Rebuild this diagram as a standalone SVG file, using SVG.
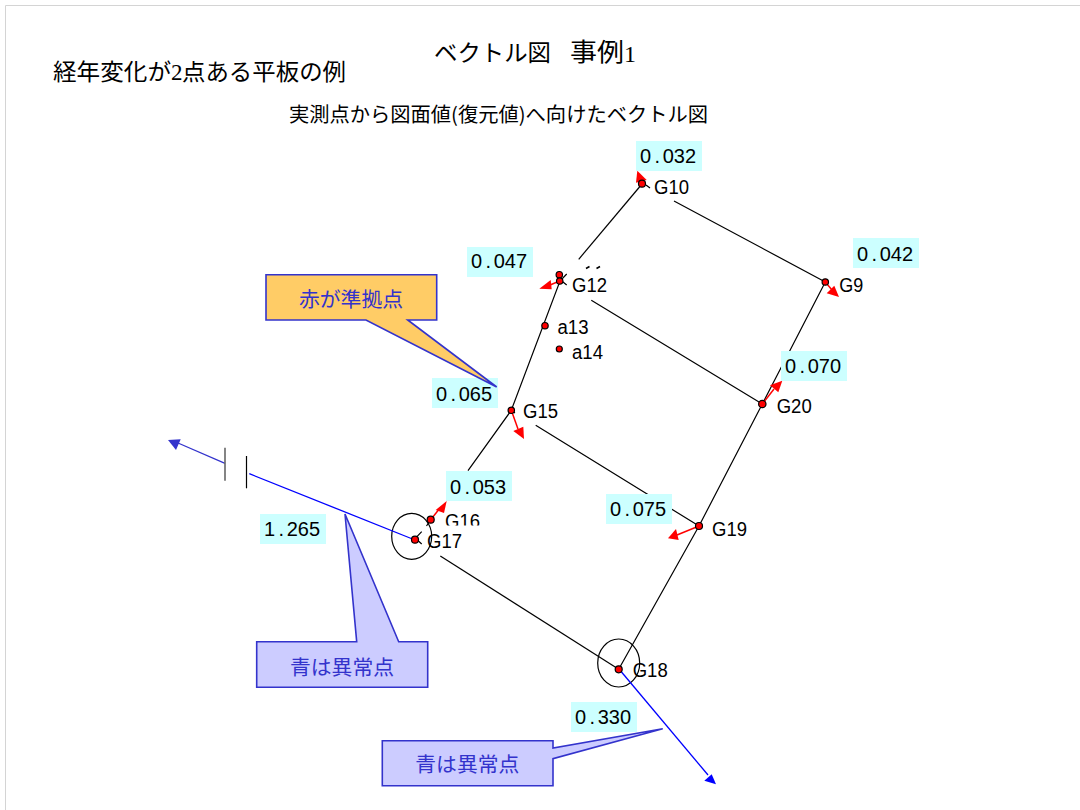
<svg xmlns="http://www.w3.org/2000/svg" width="1080" height="810" viewBox="0 0 1080 810">
<style>
text{font-family:"Liberation Sans","Noto Sans CJK JP",sans-serif;fill:#000}
.t{font-family:"Noto Sans CJK JP","Liberation Sans",sans-serif}
.s{font-family:"Liberation Serif",serif}
.n{font-size:20px}
.v{font-size:20px}
.box{fill:#ccffff}
.dot{fill:#ff0000;stroke:#000;stroke-width:1.2}
.k{stroke:#000;stroke-width:1.2;fill:none}
.r{stroke:#ff0000;stroke-width:1.5;fill:none}
.rh{fill:#ff0000}
.c{stroke:#3333cc;stroke-width:1.6;stroke-linejoin:miter}
.ct{font-family:"Noto Sans CJK JP",sans-serif;font-size:20.8px;fill:#3333cc;text-anchor:middle}
</style>
<rect width="1080" height="810" fill="#fff"/>
<path d="M5.5 810V5.5H1080" fill="none" stroke="#d4d4d4" stroke-width="1"/>
<g id="titles">
<text class="t" x="434" y="61" font-size="23" textLength="117" lengthAdjust="spacingAndGlyphs">ベクトル図</text>
<text class="t" x="570" y="61" font-size="25" textLength="54" lengthAdjust="spacingAndGlyphs">事例</text>
<text class="s" x="624" y="62" font-size="24">1</text>
<text class="t" x="53" y="80" font-size="23" textLength="118" lengthAdjust="spacingAndGlyphs">経年変化が</text>
<text class="s" x="171" y="80" font-size="23">2</text>
<text class="t" x="182" y="80" font-size="23" textLength="164" lengthAdjust="spacingAndGlyphs">点ある平板の例</text>
<text class="t" x="289" y="122" font-size="20" textLength="419" lengthAdjust="spacingAndGlyphs">実測点から図面値(復元値)へ向けたベクトル図</text>
</g>
<g id="connectors">
<path class="k" d="M642 184L578.7 259.3"/>
<path class="k" d="M646 185L650 188M674 201L825.3 282"/>
<path class="k" d="M825.3 282L762.3 404L699 526L618.7 669.3"/>
<path class="k" d="M566.7 274L560 281L511.3 410.3L468 470.7"/>
<path class="k" d="M562.7 281.7L566.7 285M591.3 300.3L762.3 404"/>
<path class="k" d="M511.3 410.3L515 413M535.7 425.3L699 526"/>
<path class="k" d="M440.3 556L618.7 669.3"/>
<path class="k" d="M421.7 531.7L416 537.7M417.3 540L421.7 544"/>
<path class="k" d="M430.7 519.7L426.5 526"/>
<path d="M586 268.5l3.5 -2M596.5 268.5l3.5 -2" fill="none" stroke="#000" stroke-width="1.6"/>
<ellipse class="k" cx="411.7" cy="536.3" rx="20" ry="23"/>
<ellipse class="k" cx="618.7" cy="663" rx="21" ry="24"/>
<path d="M415 540L249.3 473.7" fill="none" stroke="#0000ff" stroke-width="1.3"/>
<path d="M225 463.3L178 443" fill="none" stroke="#3333cc" stroke-width="1.3"/>
<polygon points="168,440 180.7,439.3 176,450" fill="#3333cc"/>
<path d="M225 447.7V480.7" stroke="#666" stroke-width="1.6"/>
<path d="M246.5 456V488.3" stroke="#000" stroke-width="1.2"/>
<path d="M619 669L708 775" fill="none" stroke="#0000ff" stroke-width="1.3"/>
<polygon points="716,784.3 704.3,780.7 711.7,774.3" fill="#0000ff"/>
</g>
<g id="vectors">
<path class="r" d="M642 184L640 176"/><polygon class="rh" points="637.3,170.7 646.7,180 636,182.7"/>
<path class="r" d="M559.7 281L550 285"/><polygon class="rh" points="539.3,288.7 550.7,280 551.7,289.3"/>
<path class="r" d="M511.3 410.3L518 429"/><polygon class="rh" points="524,439 513.3,431 523.3,426.7"/>
<path class="r" d="M430.7 519.7L440 508"/><polygon class="rh" points="446.7,501 435.7,510 444,513"/>
<path class="r" d="M699 526L677 535"/><polygon class="rh" points="668,538.3 676,529 678.7,540"/>
<path class="r" d="M825.3 282L832 290"/><polygon class="rh" points="839,297 826.7,293.3 834.3,285.7"/>
<path class="r" d="M762.3 404L774 389"/><polygon class="rh" points="782.3,380.7 770,385.3 778.3,392.3"/>
</g>
<g id="G10"><circle class="dot" cx="642" cy="183.7" r="3.5"/><text class="n" x="654" y="194" textLength="35" lengthAdjust="spacingAndGlyphs">G10</text></g>
<g id="G11"><circle class="dot" cx="559.3" cy="274.7" r="3.2"/></g>
<g id="G12"><circle class="dot" cx="559.7" cy="281" r="3.2"/><text class="n" x="572" y="292" textLength="35" lengthAdjust="spacingAndGlyphs">G12</text></g>
<g id="a13"><circle class="dot" cx="545" cy="325.7" r="3.2"/><text class="n" x="557.5" y="334" textLength="31" lengthAdjust="spacingAndGlyphs">a13</text></g>
<g id="a14"><circle class="dot" cx="559.3" cy="349" r="3"/><text class="n" x="572" y="358.5" textLength="31" lengthAdjust="spacingAndGlyphs">a14</text></g>
<g id="G15"><circle class="dot" cx="511.3" cy="410.3" r="3.2"/><text class="n" x="523" y="417.7" textLength="35" lengthAdjust="spacingAndGlyphs">G15</text></g>
<g id="G16"><circle class="dot" cx="430.7" cy="519.7" r="3.5"/><text class="n" x="445" y="528" textLength="35" lengthAdjust="spacingAndGlyphs">G16</text></g>
<rect x="444" y="525.5" width="40" height="28" fill="#fff"/>
<g id="G17"><circle class="dot" cx="415" cy="539.7" r="3.5"/><text class="n" x="427" y="547.7" textLength="35" lengthAdjust="spacingAndGlyphs">G17</text></g>
<g id="G18"><circle class="dot" cx="618.7" cy="669.3" r="3.5"/><text class="n" x="632.7" y="677.3" textLength="35" lengthAdjust="spacingAndGlyphs">G18</text></g>
<g id="G19"><circle class="dot" cx="699" cy="526" r="3.5"/><text class="n" x="712" y="536" textLength="35" lengthAdjust="spacingAndGlyphs">G19</text></g>
<g id="G20"><circle class="dot" cx="762.3" cy="404" r="3.7"/><text class="n" x="776.7" y="412.7" textLength="35" lengthAdjust="spacingAndGlyphs">G20</text></g>
<g id="G9"><circle class="dot" cx="825.3" cy="282" r="3.2"/><text class="n" x="839.3" y="292" textLength="24" lengthAdjust="spacingAndGlyphs">G9</text></g>
<g id="values">
<rect class="box" x="636" y="141" width="66" height="30"/><text class="v" x="640 654.5 662.7 673.8 685" y="162.7">0.032</text>
<rect class="box" x="467" y="247" width="66" height="30"/><text class="v" x="471 485.5 493.7 504.8 516" y="268.3">0.047</text>
<rect class="box" x="432" y="378" width="66" height="30"/><text class="v" x="436 450.5 458.7 469.8 481" y="400.7">0.065</text>
<rect class="box" x="446" y="471" width="66" height="30"/><text class="v" x="450 464.5 472.7 483.8 495" y="494">0.053</text>
<rect class="box" x="606" y="494" width="66" height="30"/><text class="v" x="610 624.5 632.7 643.8 655" y="515.7">0.075</text>
<rect class="box" x="260" y="514" width="66" height="30"/><text class="v" x="264 278.5 286.7 297.8 309" y="536">1.265</text>
<rect class="box" x="571" y="702" width="66" height="30"/><text class="v" x="575 589.5 597.7 608.8 620" y="724">0.330</text>
<rect class="box" x="853" y="238" width="66" height="30"/><text class="v" x="857 871.5 879.7 890.8 902" y="261.3">0.042</text>
<rect class="box" x="781" y="351" width="66" height="30"/><text class="v" x="785 799.5 807.7 818.8 830" y="373.3">0.070</text>
</g>
<g id="callout-red">
<polygon class="c" fill="#ffcc66" points="266,274.7 436.7,274.7 436.7,320 407.7,320 496.7,387 366,320 266,320"/>
<text class="ct" x="351" y="306.5">赤が準拠点</text>
</g>
<g id="callout-blue-1">
<polygon class="c" fill="#ccccff" points="256.7,641.7 356.7,641.7 345,514 398.7,641.7 427.7,641.7 427.7,687.3 256.7,687.3"/>
<text class="ct" x="342" y="674.5">青は異常点</text>
</g>
<g id="callout-blue-2">
<polygon class="c" fill="#ccccff" points="382.3,740.7 553,740.7 553,748 662.7,728.7 553,758.7 553,785.7 382.3,785.7"/>
<text class="ct" x="467.3" y="771.5">青は異常点</text>
</g>
</svg>
